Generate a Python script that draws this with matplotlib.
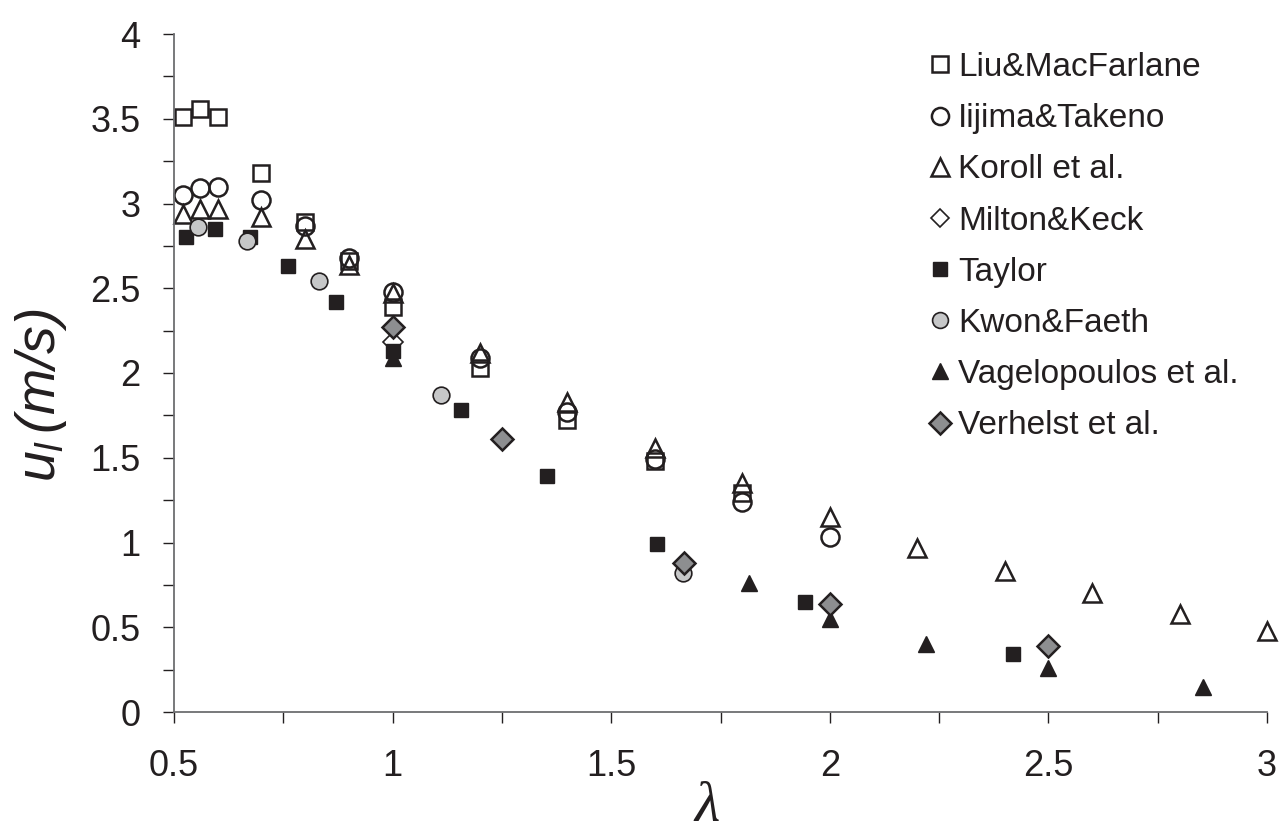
import matplotlib
matplotlib.use("Agg")
import matplotlib.pyplot as plt
from matplotlib.ticker import MultipleLocator, FuncFormatter

plt.rcParams['font.family'] = ['Liberation Sans', 'DejaVu Sans']
plt.rcParams['mathtext.fontset'] = 'custom'
plt.rcParams['mathtext.it'] = 'Liberation Sans:italic'
plt.rcParams['mathtext.rm'] = 'Liberation Sans:italic'

# Laminar burning velocity of hydrogen-air mixtures vs. air excess ratio
liu_x = [0.52, 0.56, 0.60, 0.70, 0.80, 0.90, 1.00, 1.20, 1.40, 1.60, 1.80]
liu_y = [3.51, 3.56, 3.51, 3.18, 2.89, 2.66, 2.39, 2.03, 1.72, 1.48, 1.29]

iijima_x = [0.52, 0.56, 0.60, 0.70, 0.80, 0.90, 1.00, 1.20, 1.40, 1.60, 1.80, 2.00]
iijima_y = [3.05, 3.09, 3.10, 3.02, 2.87, 2.68, 2.48, 2.09, 1.77, 1.49, 1.24, 1.03]

koroll_x = [0.52, 0.56, 0.60, 0.70, 0.80, 0.90, 1.00, 1.20, 1.40, 1.60, 1.80,
            2.00, 2.20, 2.40, 2.60, 2.80, 3.00]
koroll_y = [2.94, 2.97, 2.97, 2.92, 2.79, 2.64, 2.47, 2.12, 1.83, 1.56, 1.35,
            1.15, 0.97, 0.83, 0.70, 0.58, 0.48]

milton_x = [1.00]
milton_y = [2.18]

taylor_x = [0.527, 0.594, 0.674, 0.761, 0.871, 1.00, 1.156, 1.354, 1.605, 1.943, 2.42]
taylor_y = [2.80, 2.85, 2.80, 2.63, 2.42, 2.13, 1.78, 1.39, 0.99, 0.65, 0.34]

kwon_x = [0.556, 0.666, 0.832, 1.11, 1.665]
kwon_y = [2.86, 2.78, 2.54, 1.87, 0.82]

vagel_x = [1.00, 1.816, 2.00, 2.22, 2.50, 2.854]
vagel_y = [2.09, 0.76, 0.55, 0.40, 0.26, 0.15]

verh_x = [1.00, 1.25, 1.667, 2.00, 2.50]
verh_y = [2.27, 1.61, 0.88, 0.64, 0.39]

INK = '#231f20'
AXIS = '#6d6e71'

series = [
    ("Liu&MacFarlane", liu_x, liu_y, dict(marker='s', ms=12, mfc='none', mec=INK, mew=1.8)),
    ("Iijima&Takeno", iijima_x, iijima_y, dict(marker='o', ms=13, mfc='none', mec=INK, mew=1.8)),
    ("Koroll et al.", koroll_x, koroll_y, dict(marker='^', ms=13, mfc='none', mec=INK, mew=1.8)),
    ("Milton&Keck", milton_x, milton_y, dict(marker='D', ms=10, mfc='white', mec=INK, mew=1.2)),
    ("Taylor", taylor_x, taylor_y, dict(marker='s', ms=10.5, mfc=INK, mec=INK, mew=1.0)),
    ("Kwon&Faeth", kwon_x, kwon_y, dict(marker='o', ms=12, mfc='#c6c7c8', mec=INK, mew=1.2)),
    ("Vagelopoulos et al.", vagel_x, vagel_y, dict(marker='^', ms=12, mfc=INK, mec=INK, mew=1.0)),
    ("Verhelst et al.", verh_x, verh_y, dict(marker='D', ms=11.5, mfc='#8d8e90', mec=INK, mew=1.8)),
]

fig = plt.figure(figsize=(12.83, 8.35), dpi=100)
ax = fig.add_axes([174 / 1283, 1 - 712 / 835, (1267 - 174) / 1283, (712 - 34) / 835])

handles = []
for label, xs, ys, st in series:
    h, = ax.plot(xs, ys, linestyle='none', label=label, clip_on=False, **st)
    handles.append(h)

ax.set_xlim(0.5, 3.0)
ax.set_ylim(0, 4)
ax.xaxis.set_major_locator(MultipleLocator(0.5))
ax.xaxis.set_minor_locator(MultipleLocator(0.25))
ax.yaxis.set_major_locator(MultipleLocator(0.5))
ax.yaxis.set_minor_locator(MultipleLocator(0.25))
ax.xaxis.set_major_formatter(FuncFormatter(lambda v, p: f"{v:g}"))
ax.yaxis.set_major_formatter(FuncFormatter(lambda v, p: f"{v:g}"))

for side in ('top', 'right'):
    ax.spines[side].set_visible(False)
for side in ('left', 'bottom'):
    ax.spines[side].set_color(AXIS)
    ax.spines[side].set_linewidth(1.3)

ax.tick_params(which='both', direction='out', length=8, width=1.0, color=INK,
               labelsize=26, labelcolor=INK)
ax.tick_params(axis='x', which='major', pad=19)
ax.tick_params(axis='y', which='major', pad=16)

fig.text(41 / 1283, 1 - 395 / 835, r'$u_l\,(m/s)$', rotation=90, ha='center', va='center',
         fontsize=40, color=INK)
fig.text(707 / 1283, 1 - 821 / 835, 'λ', fontsize=42, color=INK, ha='center', va='baseline',
         family='Liberation Serif', style='italic')

leg = ax.legend(handles=handles, loc='upper left', bbox_to_anchor=(926.7 / 1283, 1 - 52 / 835),
                bbox_transform=fig.transFigure, frameon=False, fontsize=24,
                handlelength=0.8, handletextpad=0.14, labelspacing=0.605, markerscale=0.95,
                borderpad=0, borderaxespad=0)
for t in leg.get_texts():
    t.set_color(INK)

fig.savefig('out.png', dpi=100)
